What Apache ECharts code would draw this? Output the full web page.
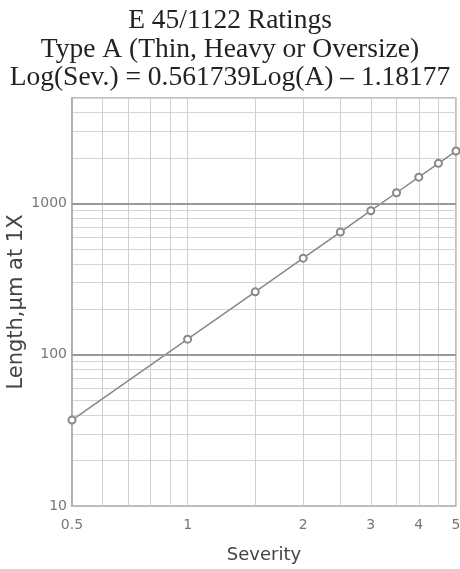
<!DOCTYPE html>
<html>
<head>
<meta charset="utf-8">
<script src="https://cdn.jsdelivr.net/npm/echarts@6/dist/echarts.min.js"></script>
<style>
	html, body { margin: 0; padding: 0; background: #fff; }
	#main { width: 460px; height: 569px; }
</style>
</head>
<body>
<div id="main"></div>
<script>
// ASTM E45 / 1122 type A ratings
var severity = [0.5, 1, 1.5, 2, 2.5, 3, 3.5, 4, 4.5, 5];
var lengthUm = [37, 127, 261, 436, 649, 898, 1181, 1498, 1848, 2229];

// grid lines / labels of the log paper
var xTicks = [0.5, 0.6, 0.7, 0.8, 0.9, 1, 1.5, 2, 2.5, 3, 3.5, 4, 4.5, 5];
var xLabels = [0.5, 1, 2, 3, 4, 5];
var yTicks = [10, 20, 30, 40, 50, 60, 70, 80, 90,
	100, 200, 300, 400, 500, 600, 700, 800, 900,
	1000, 2000, 3000, 4000, 5000];
var yLabels = [10, 100, 1000];
var yMajor = [100, 1000];

var points = [];
for (var i = 0; i < severity.length; i++) {
	points.push([severity[i], lengthUm[i]]);
}
var majorLines = [];
for (var j = 0; j < yMajor.length; j++) {
	majorLines.push({ yAxis: yMajor[j] });
}

var myChart = echarts.init(document.getElementById('main'));
myChart.setOption({
	animation: false,
	backgroundColor: '#fff',
	title: {
		text: 'E 45/1122 Ratings\nType A (Thin, Heavy or Oversize)\nLog(Sev.) = 0.561739Log(A) \u2013 1.18177',
		left: 'center',
		top: 2,
		textStyle: {
			fontFamily: 'Liberation Serif',
			fontWeight: 'normal',
			fontSize: 27.5,
			lineHeight: 28.5,
			color: '#222'
		}
	},
	grid: {
		left: 72,
		right: 4,
		top: 98,
		bottom: 63,
		outerBoundsMode: 'none',
		containLabel: false,
		show: true,
		borderColor: '#aaa',
		borderWidth: 1.5
	},
	xAxis: {
		type: 'log',
		min: 0.5,
		max: 5,
		name: 'Severity',
		nameLocation: 'middle',
		nameGap: 40,
		nameMoveOverlap: false,
		nameTextStyle: { fontFamily: 'DejaVu Sans', fontSize: 18, color: '#444' },
		axisLine: { show: true, lineStyle: { color: '#bbb' } },
		axisTick: { show: false, customValues: xTicks },
		axisLabel: {
			customValues: xLabels,
			margin: 12,
			fontFamily: 'DejaVu Sans',
			fontSize: 14,
			color: '#777',
			formatter: function (v) { return String(+(+v).toPrecision(3)); }
		},
		splitLine: { show: true, lineStyle: { color: '#cfcfcf', width: 1 } },
		minorTick: { show: false }
	},
	yAxis: {
		type: 'log',
		min: 10,
		max: 5000,
		name: 'Length,\u00b5m at 1X',
		nameLocation: 'middle',
		nameGap: 45,
		nameMoveOverlap: false,
		nameTextStyle: { fontFamily: 'DejaVu Sans', fontSize: 21, color: '#444' },
		axisLine: { show: true, lineStyle: { color: '#aaa', width: 1.5 } },
		axisTick: { show: false, customValues: yTicks },
		axisLabel: {
			customValues: yLabels,
			margin: 5,
			fontFamily: 'DejaVu Sans',
			fontSize: 14,
			color: '#777',
			formatter: function (v) { return String(Math.round(v)); }
		},
		splitLine: { show: true, lineStyle: { color: '#d4d4d4', width: 1 } }
	},
	series: [{
		type: 'line',
		data: points,
		symbol: 'emptyCircle',
		symbolSize: 7,
		lineStyle: { color: '#888', width: 1.5 },
		itemStyle: { color: '#888', borderColor: '#888', borderWidth: 1.5 },
		markLine: {
			silent: true,
			symbol: 'none',
			label: { show: false },
			lineStyle: { color: '#999', width: 2, type: 'solid' },
			data: majorLines
		}
	}]
});
</script>
</body>
</html>
